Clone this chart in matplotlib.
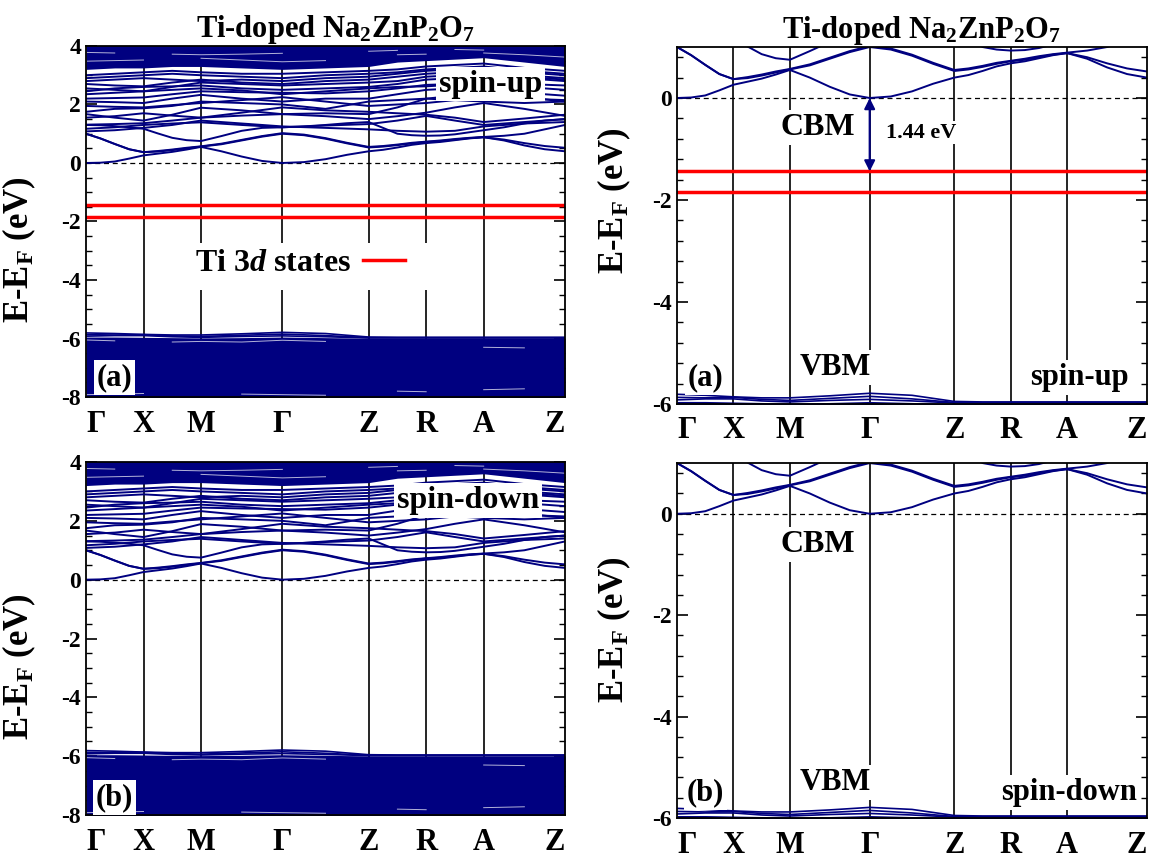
import numpy as np
import matplotlib
matplotlib.use("Agg")
import matplotlib.pyplot as plt
from matplotlib.lines import Line2D
from matplotlib.patches import Rectangle
from matplotlib.ticker import MultipleLocator

plt.rcParams['font.family'] = ['Liberation Serif', 'DejaVu Serif']
plt.rcParams['font.weight'] = 'bold'
plt.rcParams['axes.titleweight'] = 'bold'
plt.rcParams['axes.labelweight'] = 'bold'
plt.rcParams['axes.unicode_minus'] = False
plt.rcParams['mathtext.fontset'] = 'custom'
plt.rcParams['mathtext.rm'] = 'Liberation Serif:bold'
plt.rcParams['mathtext.it'] = 'Liberation Serif:italic:bold'
plt.rcParams['mathtext.bf'] = 'Liberation Serif:bold'

NAVY = '#000080'
nan = np.nan

# high-symmetry path of the tetragonal cell
k_labels = ['Γ', 'X', 'M', 'Γ', 'Z', 'R', 'A', 'Z']
k_nodes = [0.0, 1.0, 2.0, 3.414, 4.914, 5.914, 6.914, 8.328]


def path_grid(n):
    segs = [np.linspace(a, b, n + 1)[:-1] for a, b in zip(k_nodes[:-1], k_nodes[1:])]
    return np.append(np.concatenate(segs), k_nodes[-1])


k_fine = path_grid(4)     # nodes + quarter points
k_coarse = path_grid(2)   # nodes + midpoints

# lowest conduction bands (eV), sampled on k_fine
cb1 = [0.00, 0.01, 0.05, 0.15, 0.26, 0.32, 0.38, 0.46, 0.55, 0.40, 0.22, 0.07, 0.00,
       0.03, 0.13, 0.28, 0.40, 0.45, 0.53, 0.62, 0.68, 0.72, 0.78, 0.84, 0.88,
       0.77, 0.60, 0.47, 0.40]
cb2 = [1.00, 0.84, 0.65, 0.47, 0.37, 0.39, 0.44, 0.50, 0.56, 0.64, 0.77, 0.90, 1.00,
       0.95, 0.83, 0.67, 0.53, 0.56, 0.61, 0.67, 0.72, 0.75, 0.80, 0.85, 0.88,
       0.80, 0.68, 0.58, 0.52]
cb2b = [1.00, 0.84, 0.65, 0.47, 0.37, 0.41, 0.46, 0.52, 0.57, 0.66, 0.79, 0.92, 1.02,
        0.97, 0.85, 0.69, 0.55, 0.58, 0.63, 0.69, 0.73, 0.77, 0.82, 0.86, 0.89,
        0.93, 1.00, 1.15, 1.30]
cb3 = [1.30, 1.29, 1.26, 1.22, 1.17, 1.01, 0.86, 0.78, 0.75, 0.92, 1.10, 1.20, 1.22,
       1.25, 1.30, 1.36, 1.40, 1.20, 1.00, 0.95, 0.93, 0.94, 0.98, 1.05, 1.12,
       1.22, 1.35, 1.45, 1.50]
fine_bands = [cb1, cb2, cb2b, cb3]

# higher conduction bands, sampled on k_coarse
cb4 = [1.08, 1.12, 1.20, 1.30, 1.45, 1.35, 1.25, 1.20, 1.15, 1.10, 1.07, 1.10, 1.25, 1.35, 1.40]
cb5 = [1.17, 1.22, 1.30, 1.35, 1.39, 1.30, 1.22, 1.28, 1.33, 1.45, 1.61, 1.45, 1.30, 1.40, 1.50]
cb6 = [1.31, 1.33, 1.36, 1.45, 1.55, 1.62, 1.67, 1.60, 1.50, 1.60, 1.72, 1.90, 2.05, 1.85, 1.61]
cb7 = [1.55, 1.60, 1.70, 1.62, 1.55, 1.72, 1.90, 1.80, 1.75, 1.70, 1.65, 1.55, 1.40, 1.52, 1.65]
cb8 = [1.67, 1.55, 1.45, 1.65, 1.89, 1.80, 1.67, 1.70, 1.67, 1.90, 2.20, 2.15, 2.10, 2.05, 2.10]
cb9 = [1.75, 1.85, 1.87, 1.95, 2.10, 2.05, 2.00, 1.85, 2.10, 2.15, 2.20, 2.30, 2.35, 2.25, 2.10]
cb10 = [1.95, 1.92, 1.90, 1.98, 2.05, 2.15, 2.25, 2.10, 1.95, 2.00, 2.05, 2.15, 2.25, 2.20, 2.15]
cb11 = [2.10, 2.08, 2.05, 2.20, 2.33, 2.20, 2.10, 2.20, 2.20, 2.35, 2.50, 2.55, 2.60, 2.40, 2.30]
cb12 = [2.20, 2.22, 2.24, 2.35, 2.45, 2.42, 2.40, 2.38, 2.45, 2.55, 2.67, 2.70, 2.75, 2.60, 2.50]
cb13 = [2.35, 2.40, 2.45, 2.50, 2.55, 2.48, 2.35, 2.45, 2.55, 2.60, 2.62, 2.68, 2.75, 2.70, 2.65]
cb14 = [2.45, 2.55, 2.60, 2.62, 2.65, 2.55, 2.50, 2.55, 2.60, 2.70, 2.85, 2.90, 3.00, 2.90, 2.80]
cb15 = [2.55, 2.50, 2.45, 2.60, 2.75, 2.70, 2.65, 2.70, 2.75, 2.80, 2.95, 3.00, 3.05, 2.95, 2.85]
cb16 = [2.70, 2.65, 2.62, 2.75, 2.85, 2.75, 2.70, 2.80, 2.85, 2.95, 3.05, 3.10, 3.15, 3.00, 2.90]
cb17 = [2.80, 2.85, 2.90, 2.85, 2.80, 2.85, 2.80, 2.90, 2.95, 3.05, 3.15, 3.20, 3.25, 3.10, 3.00]
cb18 = [2.90, 2.95, 3.00, 3.05, 3.00, 2.95, 2.90, 3.00, 3.05, 3.10, 3.20, 3.25, 3.30, 3.15, 3.05]
cb19 = [3.00, 3.05, 3.10, 3.15, 3.10, 3.05, 3.05, 3.10, 3.15, 3.20, 3.30, 3.35, 3.40, 3.25, 3.15]
coarse_bands = [cb4, cb5, cb6, cb7, cb8, cb9, cb10, cb11, cb12, cb13, cb14, cb15,
                cb16, cb17, cb18, cb19]
# lower edge of the dense conduction manifold, and small gaps inside it
cb_dense = [3.20, 3.25, 3.25, 3.30, 3.30, 3.25, 3.20, 3.25, 3.30, 3.45, 3.50, 3.55, 3.60, 3.45, 3.30]
cb_gap1 = [3.78, 3.76, nan, 3.72, 3.70, 3.72, 3.75, nan, 3.82, 3.85, nan, 3.88, 3.86, nan, 3.82]
cb_gap2 = [3.48, 3.50, 3.52, nan, 3.58, 3.52, 3.46, 3.50, nan, 3.70, 3.72, nan, 3.76, 3.70, 3.62]

# top valence bands and upper edge of the dense valence manifold
vb1 = [-5.81, -5.83, -5.86, -5.88, -5.88, -5.84, -5.79, -5.83, -5.95, -5.96, -5.96, -5.96, -5.96, -5.96, -5.96]
vb2 = [-5.87, -5.88, -5.87, -5.91, -5.93, -5.89, -5.85, -5.90, -5.97, -5.97, -5.97, -5.97, -5.97, -5.97, -5.97]
vb3 = [-5.92, -5.90, -5.90, -5.94, -5.96, -5.93, -5.91, -5.94, -5.98, -5.98, -5.98, -5.98, -5.98, -5.98, -5.98]
valence_bands = [vb1, vb2, vb3]
vb_dense = [-5.95, -5.95, -5.96, -5.97, -5.98, -5.97, -5.95, -5.97, -5.99, -5.99, -5.99, -5.99, -5.99, -5.99, -5.99]
vb_gap1 = [-6.05, -6.08, nan, -6.12, -6.10, -6.12, -6.06, -6.10, nan, nan, nan, nan, -6.30, -6.32, nan]
vb_gap2 = [-7.92, -7.90, -7.88, nan, nan, -7.90, -7.92, -7.94, nan, -7.80, -7.82, nan, -7.75, -7.72, nan]

# Ti 3d impurity levels (spin-up only)
ti_levels = [-1.44, -1.84]
gap = 0.0 - ti_levels[0]

fig = plt.figure(figsize=(11.51, 8.61), dpi=100)
ax_ul = fig.add_axes([0.0747, 0.5389, 0.4162, 0.4077])
ax_ll = fig.add_axes([0.0747, 0.0534, 0.4162, 0.4100])
ax_ur = fig.add_axes([0.5882, 0.5308, 0.4083, 0.4146])
ax_lr = fig.add_axes([0.5882, 0.0499, 0.4083, 0.4123])

box = dict(facecolor='white', edgecolor='none', pad=2)


def draw_panel(ax, ylim, minor, spin_up):
    for kx in k_nodes[1:-1]:
        ax.axvline(kx, color='black', lw=1.2, zorder=1)
    ax.axhline(0, color='black', lw=0.9, ls=(0, (4, 3)), zorder=1.5)
    ax.fill_between(k_coarse, -9, vb_dense, color=NAVY, lw=0, zorder=2)
    ax.fill_between(k_coarse, cb_dense, 5, color=NAVY, lw=0, zorder=2)
    for g in (cb_gap1, cb_gap2, vb_gap1, vb_gap2):
        ax.plot(k_coarse, g, color='white', lw=0.7, alpha=0.7, zorder=2.1)
    for b in valence_bands:
        ax.plot(k_coarse, b, color=NAVY, lw=1.2, zorder=2)
    for b in fine_bands:
        ax.plot(k_fine, b, color=NAVY, lw=1.4, zorder=2)
    for b in coarse_bands:
        ax.plot(k_coarse, b, color=NAVY, lw=1.4, zorder=2)
    if spin_up:
        for e in ti_levels:
            ax.plot([k_nodes[0], k_nodes[-1]], [e, e], color='red', lw=2.5, zorder=2.5)

    ax.set_xlim(k_nodes[0], k_nodes[-1])
    ax.set_ylim(*ylim)
    ax.set_xticks(k_nodes)
    ax.set_xticklabels(k_labels)
    labels = ax.get_xticklabels()
    labels[0].set_horizontalalignment('left')
    labels[-1].set_horizontalalignment('right')
    ax.tick_params(axis='x', length=0, pad=9, labelsize=22)
    ax.yaxis.set_major_locator(MultipleLocator(2))
    ax.yaxis.set_minor_locator(MultipleLocator(minor))
    ax.tick_params(axis='y', which='both', direction='in', left=True, right=True, labelsize=17)
    ax.tick_params(axis='y', which='major', length=8, width=1.2)
    ax.tick_params(axis='y', which='minor', length=4.5, width=1.0)
    for s in ax.spines.values():
        s.set_linewidth(1.3)
    ax.set_ylabel('E-E$_\\mathrm{F}$ (eV)', fontsize=25)


# left: wide energy window
draw_panel(ax_ul, (-8, 4), 0.5, True)
draw_panel(ax_ll, (-8, 4), 0.5, False)
# right: window around the gap
draw_panel(ax_ur, (-6, 1), 0.4, True)
draw_panel(ax_lr, (-6, 1), 0.4, False)

for ax in (ax_ul, ax_ur):
    ax.set_title('Ti-doped Na$_2$ZnP$_2$O$_7$', fontsize=22, x=0.52, pad=2)

ax_ul.yaxis.set_label_coords(-0.10, 0.42)
ax_ll.yaxis.set_label_coords(-0.10, 0.42)
ax_ur.yaxis.set_label_coords(-0.094, 0.57)
ax_lr.yaxis.set_label_coords(-0.094, 0.53)

# left panel annotations
ax_ul.text(7.04, 2.7, 'spin-up', fontsize=23, ha='center', va='center', bbox=box, zorder=4)
ax_ul.text(0.50, -7.33, '(a)', fontsize=22, ha='center', va='center', bbox=box, zorder=4)
ax_ll.text(6.64, 2.7, 'spin-down', fontsize=23, ha='center', va='center', bbox=box, zorder=4)
ax_ll.text(0.50, -7.4, '(b)', fontsize=22, ha='center', va='center', bbox=box, zorder=4)
ax_ul.add_patch(Rectangle((0.134, 0.305), 0.605, 0.135, transform=ax_ul.transAxes,
                          facecolor='white', edgecolor='none', zorder=3))
ti_handle = Line2D([], [], color='red', lw=2.5)
leg = ax_ul.legend([ti_handle], ['Ti 3$\\it{d}$ states'], loc='center',
                   bbox_to_anchor=(0.446, 0.38), fontsize=23, markerfirst=False,
                   handlelength=1.3, handletextpad=0.4, borderpad=0.3,
                   frameon=False)

# right panel annotations
k_gamma = k_nodes[3]
ax_ur.annotate('', xy=(k_gamma, 0.0), xytext=(k_gamma, -gap),
               arrowprops=dict(arrowstyle='<|-|>', color=NAVY, lw=1.5,
                               mutation_scale=16, shrinkA=0, shrinkB=0), zorder=3)
ax_ur.text(3.70, -0.68, f'{gap:.2f} eV', fontsize=16, ha='left', va='center',
           bbox=dict(facecolor='white', edgecolor='none', pad=1), zorder=4)
for ax, e_cbm, e_vbm, tag, e_tag, spin, k_spin in (
        (ax_ur, -0.58, -5.28, '(a)', -5.48, 'spin-up', 7.14),
        (ax_lr, -0.61, -5.30, '(b)', -5.50, 'spin-down', 6.95)):
    ax.text(2.50, e_cbm, 'CBM', fontsize=23, ha='center', va='center', bbox=box, zorder=4)
    ax.text(2.80, e_vbm, 'VBM', fontsize=22, ha='center', va='center', bbox=box, zorder=4)
    ax.text(0.50, e_tag, tag, fontsize=22, ha='center', va='center', bbox=box, zorder=4)
    ax.text(k_spin, e_tag, spin, fontsize=22, ha='center', va='center', bbox=box, zorder=4)

fig.savefig('out.png', dpi=100)
